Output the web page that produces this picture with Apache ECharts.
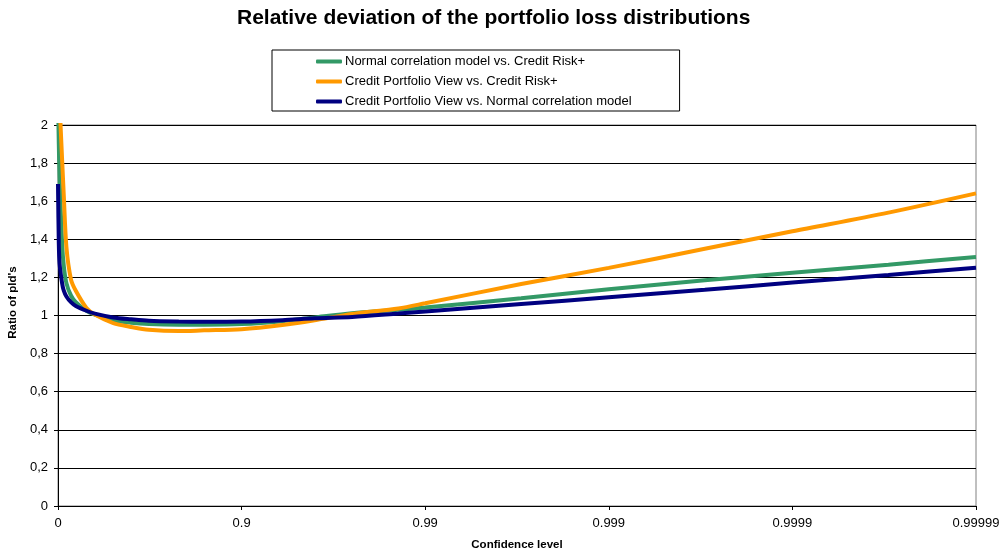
<!DOCTYPE html>
<html>
<head>
<meta charset="utf-8">
<script src="https://cdn.jsdelivr.net/npm/echarts@6/dist/echarts.min.js"></script>
<style>html,body{margin:0;padding:0;background:#fff}#c{width:999px;height:550px}</style>
</head>
<body>
<div id="c"></div>
<script>
// Confidence levels (x positions follow -log10(1 - p) on the axis)
var confidence = [0, 0.01, 0.02, 0.05, 0.07, 0.1, 0.15, 0.2, 0.3, 0.37, 0.5, 0.6, 0.68, 0.78, 0.84, 0.9, 0.94, 0.96, 0.975, 0.986, 0.99, 0.997, 0.999, 0.9997, 0.9999, 0.99997, 0.99999];
var normalVsCR = [2.15, 1.9, 1.72, 1.38, 1.26, 1.17, 1.105, 1.07, 1.025, 1.005, 0.975, 0.962, 0.955, 0.952, 0.952, 0.955, 0.97, 0.99, 1.012, 1.03, 1.042, 1.09, 1.138, 1.185, 1.225, 1.267, 1.307];
var cpvVsCR = [2.5, 2.3, 2.12, 1.82, 1.63, 1.36, 1.19, 1.13, 1.04, 1.005, 0.96, 0.94, 0.925, 0.918, 0.922, 0.928, 0.95, 0.975, 1.008, 1.037, 1.064, 1.165, 1.25, 1.35, 1.442, 1.54, 1.641];
var cpvVsNormal = [1.69, 1.38, 1.27, 1.17, 1.13, 1.1, 1.07, 1.05, 1.025, 1.01, 0.99, 0.98, 0.972, 0.968, 0.967, 0.968, 0.975, 0.985, 0.992, 1.01, 1.021, 1.06, 1.096, 1.135, 1.173, 1.213, 1.251];
var xTickLabels = ['0', '0.9', '0.99', '0.999', '0.9999', '0.99999'];
var seriesNames = ['Normal correlation model vs. Credit Risk+', 'Credit Portfolio View vs. Credit Risk+', 'Credit Portfolio View vs. Normal correlation model'];
var colors = ['#339966', '#FF9900', '#000080'];

function pairs(vals) {
  return confidence.map(function (p, i) {
    var x = p >= 1 ? 5 : -Math.log10(1 - p);
    return [x, vals[i]];
  });
}
var FONT = '"Liberation Sans", Arial, sans-serif';
var chart = echarts.init(document.getElementById('c'), null, {renderer: 'canvas'});
var seriesData = [normalVsCR, cpvVsCR, cpvVsNormal];
chart.setOption({
  animation: false,
  backgroundColor: '#ffffff',
  title: {
    text: 'Relative deviation of the portfolio loss distributions',
    left: 237, top: 8, padding: 0,
    textStyle: {fontFamily: FONT, fontSize: 21, fontWeight: 'bold', color: '#000'}
  },
  legend: {
    orient: 'vertical', left: 272, top: 50,
    padding: [5, 48, 3, 44],
    borderColor: '#000', borderWidth: 1,
    itemGap: 7, itemWidth: 26, itemHeight: 4,
    icon: 'roundRect',
    textStyle: {fontFamily: FONT, fontSize: 13, color: '#000', padding: [0, 0, 0, -2]},
    data: seriesNames
  },
  grid: {left: 58, right: 23, top: 125, bottom: 44, show: true, borderColor: '#808080', borderWidth: 1,
    containLabel: false, outerBoundsMode: 'none'},
  xAxis: {
    type: 'value', min: 0, max: 5, interval: 1,
    name: 'Confidence level', nameLocation: 'middle', nameGap: 33,
    nameTextStyle: {fontFamily: FONT, fontSize: 11.5, fontWeight: 'bold', color: '#000'},
    axisLine: {show: true, lineStyle: {color: '#000', width: 1}},
    axisTick: {show: true, length: 4, lineStyle: {color: '#000'}},
    axisLabel: {fontFamily: FONT, fontSize: 13, color: '#000', margin: 11,
      formatter: function (v) { return xTickLabels[Math.round(v)] || ''; }},
    splitLine: {show: false}
  },
  yAxis: {
    type: 'value', min: 0, max: 2, interval: 0.2,
    name: "Ratio of pld's", nameLocation: 'middle', nameGap: 35, nameRotate: 90,
    nameTextStyle: {fontFamily: FONT, fontSize: 11.5, fontWeight: 'bold', color: '#000', padding: [0, 0, 0, 26]},
    axisLine: {show: true, lineStyle: {color: '#000', width: 1}},
    axisTick: {show: true, length: 4, lineStyle: {color: '#000'}},
    axisLabel: {fontFamily: FONT, fontSize: 13, color: '#000', margin: 10,
      formatter: function (v) { return String(Math.round(v * 10) / 10).replace('.', ','); }},
    splitLine: {show: true, lineStyle: {color: '#000', width: 1}}
  },
  series: seriesNames.map(function (n, i) {
    return {
      name: n, type: 'line', data: pairs(seriesData[i]),
      showSymbol: false, symbol: 'none', clip: true,
      smooth: 0.3,
      lineStyle: {color: colors[i], width: 4},
      itemStyle: {color: colors[i]},
      z: 2 + i
    };
  })
});
</script>
</body>
</html>
